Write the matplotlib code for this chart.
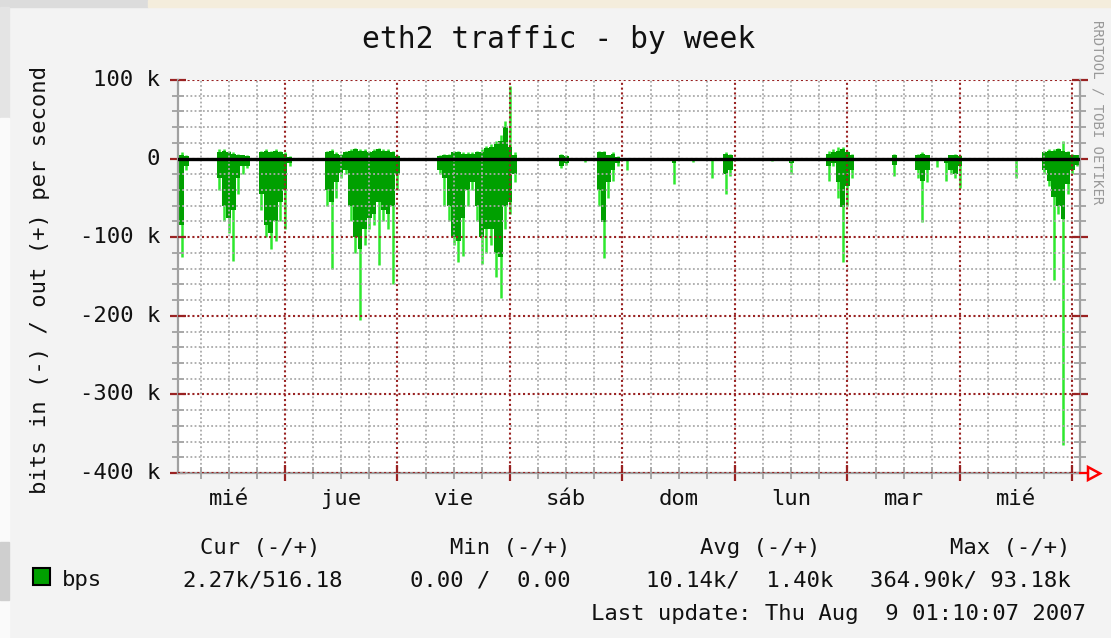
import matplotlib
matplotlib.use("Agg")
import matplotlib.pyplot as plt
from matplotlib.patches import Rectangle, Polygon
import numpy as np

W, H = 1111, 638

# hours relative to the first midnight shown (jue 00:00); zeros close each burst
t_hours = [
    -23, -22, -21, -20,
    -15, -14, -13, -12, -11, -10, -9, -8, -7,
    -6, -5, -4, -3, -2, -1, 0, 1, 2,
    8, 9, 10, 11, 12, 13, 14, 15, 16, 17, 18, 19, 20, 21, 22, 23, 24, 25,
    32, 33, 34, 35, 36, 37, 38, 39, 40, 41, 42, 43, 44, 45, 46, 47, 48, 49, 50,
    58, 59, 60, 61, 63, 64, 65,
    66, 67, 68, 69, 70, 71, 72, 73, 74,
    82, 83, 84, 86, 87, 88, 90, 91, 92, 93, 94, 95, 96,
    103, 104, 105, 107, 108, 109,
    115, 116, 117, 118, 119, 120, 121, 122,
    129, 130, 131, 134, 135, 136, 137, 138,
    139, 140, 141, 142, 143, 144, 145,
    155, 156, 157,
    161, 162, 163, 164, 165, 166, 167, 168, 169, 170,
]
# incoming traffic (drawn negative), kbit/s
in_avg_k = [
    -100, -85, -10, 0,
    0, -25, -60, -75, -65, -25, -10, -10, 0,
    0, -45, -85, -95, -80, -55, -40, -5, 0,
    0, -40, -55, -30, -18, -15, -60, -100, -115, -90, -75, -70, -55, -65, -70, -60, -20, 0,
    0, -15, -25, -60, -100, -105, -75, -40, -30, -60, -100, -90, -90, -120, -125, -60, -55, -20, 0,
    0, -10, -5, 0, 0, -3, 0,
    0, -40, -81, -30, -15, -5, 0, -2, 0,
    0, -5, 0, 0, -2, 0, 0, -3, 0, 0, -20, -15, 0,
    0, -2, 0, 0, -5, 0,
    0, -9, -5, -30, -62, -35, -15, 0,
    0, -8, 0, 0, -15, -28, -15, 0,
    0, 0, -5, -15, -19, -10, 0,
    0, -2, 0,
    0, -15, -28, -49, -60, -77, -32, -15, -8, 0,
]
in_max_k = [
    -140, -125, -15, 0,
    0, -40, -80, -95, -130, -45, -20, -12, 0,
    0, -65, -100, -115, -105, -80, -90, -10, 0,
    0, -60, -140, -50, -25, -20, -80, -120, -205, -110, -90, -85, -135, -80, -90, -160, -40, 0,
    0, -20, -60, -80, -110, -132, -124, -60, -40, -80, -134, -120, -110, -150, -177, -90, -70, -30, 0,
    0, -12, -8, 0, 0, -4, 0,
    0, -60, -126, -50, -28, -10, 0, -15, 0,
    0, -32, 0, 0, -4, 0, 0, -25, 0, 0, -45, -22, 0,
    0, -3, 0, 0, -19, 0,
    0, -28, -10, -50, -132, -60, -25, 0,
    0, -22, 0, 0, -25, -81, -30, 0,
    -11, 0, -28, -20, -25, -37, 0,
    0, -25, 0,
    0, -20, -35, -155, -70, -365, -45, -20, -10, 0,
]
# outgoing traffic (drawn positive), kbit/s
out_avg_k = [
    6, 5, 3, 0,
    0, 8, 10, 8, 6, 5, 4, 3, 0,
    0, 8, 10, 8, 10, 8, 6, 2, 0,
    0, 8, 10, 6, 5, 8, 10, 12, 10, 10, 8, 10, 12, 10, 10, 8, 3, 0,
    0, 3, 5, 5, 8, 8, 6, 6, 6, 8, 8, 13, 15, 19, 22, 40, 15, 5, 0,
    0, 5, 3, 0, 0, 0, 0,
    0, 8, 8, 4, 6, 2, 0, 0, 0,
    0, 0, 0, 0, 0, 0, 0, 0, 0, 0, 6, 5, 0,
    0, 0, 0, 0, 0, 0,
    0, 6, 8, 10, 12, 8, 5, 0,
    0, 5, 0, 0, 5, 6, 4, 0,
    0, 0, 0, 4, 5, 3, 0,
    0, 0, 0,
    0, 8, 10, 10, 12, 10, 8, 5, 4, 0,
]
out_max_k = [
    10, 8, 4, 0,
    0, 12, 12, 10, 8, 6, 5, 4, 0,
    0, 10, 12, 10, 12, 10, 8, 3, 0,
    0, 10, 12, 8, 6, 10, 12, 14, 12, 12, 10, 12, 14, 12, 12, 10, 5, 0,
    0, 5, 6, 6, 10, 10, 8, 8, 8, 10, 12, 16, 18, 22, 30, 48, 93, 8, 0,
    0, 6, 4, 0, 0, 0, 0,
    0, 10, 10, 5, 8, 3, 0, 0, 0,
    0, 0, 0, 0, 0, 0, 0, 0, 0, 0, 8, 6, 0,
    0, 0, 0, 0, 0, 0,
    0, 10, 12, 15, 15, 10, 6, 0,
    0, 6, 0, 0, 6, 8, 5, 0,
    0, 0, 0, 5, 6, 4, 0,
    0, 0, 0,
    0, 10, 12, 12, 14, 23, 10, 6, 5, 0,
]

day_labels = ["mié", "jue", "vie", "sáb", "dom", "lun", "mar", "mié"]
day_noon = [-12, 12, 36, 60, 84, 108, 132, 156]
y_ticks = [100, 0, -100, -200, -300, -400]
y_tick_labels = ["100 k", "0", "-100 k", "-200 k", "-300 k", "-400 k"]

legend_heads = ["Cur (-/+)", "Min (-/+)", "Avg (-/+)", "Max (-/+)"]
legend_vals = ["2.27k/516.18", "0.00 /  0.00", "10.14k/  1.40k", "364.90k/ 93.18k"]
head_right = [320, 570, 820, 1070]
val_right = [343, 570, 833, 1071]

DARK = "#00a000"
LIGHT = "#2ee82e"
MAJOR = "#992222"
MINOR = "#aaaaaa"
AXIS = "#a0a0a0"
INK = "#111111"
MONO = "DejaVu Sans Mono"


def fx(x):
    return x / W


def fy(y):
    return 1 - y / H


fig = plt.figure(figsize=(W / 100, H / 100), dpi=100, facecolor="#f3f3f3")

# screenshot frame bits around the graph
fig.patches.append(Rectangle((0, fy(7)), fx(148), 7 / H, transform=fig.transFigure,
                             color="#dcdcdc", zorder=0))
fig.patches.append(Rectangle((fx(148), fy(7)), 1 - fx(148), 7 / H, transform=fig.transFigure,
                             color="#f4eddc", zorder=0))
fig.patches.append(Rectangle((0, fy(118)), fx(9), 111 / H, transform=fig.transFigure,
                             color="#e4e4e4", zorder=0))
fig.patches.append(Rectangle((0, 0), fx(9), fy(118), transform=fig.transFigure,
                             color="#fafafa", zorder=0))
fig.patches.append(Rectangle((0, fy(600)), fx(9), 58 / H, transform=fig.transFigure,
                             color="#cfcfcf", zorder=0))

left, right, top, bottom = 178, 1080, 80, 473
ax = fig.add_axes([fx(left), fy(bottom), fx(right - left), (bottom - top) / H])
ax.set_facecolor("white")
ax.set_xlim(-22.8, 169.6)
ax.set_ylim(-400, 100)

t = np.array(t_hours)
ax.vlines(t, 0, in_max_k, colors=LIGHT, lw=1.8, zorder=1)
ax.fill_between(t, in_avg_k, 0, step="mid", color=DARK, lw=0, zorder=2)
ax.vlines(t, 0, out_max_k, colors=LIGHT, lw=1.8, zorder=1)
ax.fill_between(t, out_avg_k, 0, step="mid", color=DARK, lw=0, zorder=2)

# grid on top of the data, rrdtool style dotted lines
dots = (0, (1, 1.3))
for v in range(-380, 100, 20):
    if v % 100:
        ax.axhline(v, color=MINOR, lw=1.3, ls=dots, zorder=3)
for v in range(-18, 170, 6):
    if v % 24:
        ax.axvline(v, color=MINOR, lw=1.3, ls=dots, zorder=3)
for v in y_ticks:
    ax.axhline(v, color=MAJOR, lw=1.5, ls=dots, zorder=4)
for v in range(0, 170, 24):
    ax.axvline(v, color=MAJOR, lw=1.5, ls=dots, zorder=4)
ax.axhline(0, color="black", lw=2.4, zorder=5)

ax.set_yticks(y_ticks)
ax.set_yticks(range(-400, 101, 20), minor=True)
ax.set_xticks(range(0, 170, 24))
ax.set_xticks(range(-18, 170, 6), minor=True)
ax.tick_params(axis="y", which="major", direction="inout", length=12, width=1.6,
               color=MAJOR, left=True, right=True, labelleft=False)
ax.tick_params(axis="y", which="minor", direction="inout", length=8, width=1.3,
               color=AXIS, left=True, right=True)
ax.tick_params(axis="x", which="major", direction="inout", length=12, width=1.6,
               color=MAJOR, bottom=True, labelbottom=False)
ax.tick_params(axis="x", which="minor", direction="inout", length=8, width=1.3,
               color=AXIS, bottom=True)
for side in ("left", "right", "bottom"):
    ax.spines[side].set_color(AXIS)
    ax.spines[side].set_linewidth(1.6)
ax.spines["top"].set_visible(False)

for v, lab in zip(y_ticks, y_tick_labels):
    ax.annotate(lab, xy=(0, v), xycoords=("axes fraction", "data"), xytext=(-18, 0),
                textcoords="offset pixels", ha="right", va="center",
                family=MONO, fontsize=16, color=INK)
for v, lab in zip(day_noon, day_labels):
    ax.annotate(lab, xy=(v, 0), xycoords=("data", "axes fraction"), xytext=(0, -26),
                textcoords="offset pixels", ha="center", va="center",
                family=MONO, fontsize=16, color=INK)

# red arrow at the end of the x axis
fig.lines.append(plt.Line2D([fx(right), fx(1088)], [fy(bottom), fy(bottom)],
                            transform=fig.transFigure, color="red", lw=1.5))
fig.patches.append(Polygon([(fx(1088), fy(467)), (fx(1088), fy(480)), (fx(1100), fy(473.5))],
                           closed=True, transform=fig.transFigure, fill=False,
                           edgecolor="red", lw=1.8))

fig.text(0.503, fy(40), "eth2 traffic - by week", ha="center", va="center",
         family=MONO, fontsize=21.3, color=INK)
fig.text(fx(40), fy(280), "bits in (-) / out (+) per second", rotation=90,
         ha="center", va="center", family=MONO, fontsize=16, color=INK)
fig.text(fx(1098), fy(112), "RRDTOOL / TOBI OETIKER", rotation=270,
         ha="center", va="center", family=MONO, fontsize=10, color="#999999")

# legend
fig.patches.append(Rectangle((fx(33), fy(585)), 17 / W, 17 / H, transform=fig.transFigure,
                             facecolor=DARK, edgecolor="black", lw=1.5))
fig.text(fx(62), fy(580), "bps", ha="left", va="center", family=MONO, fontsize=16,
         color=INK)
for lab, x in zip(legend_heads, head_right):
    fig.text(fx(x), fy(548), lab, ha="right", va="center", family=MONO, fontsize=16,
             color=INK)
for lab, x in zip(legend_vals, val_right):
    fig.text(fx(x), fy(580), lab, ha="right", va="center", family=MONO, fontsize=16,
             color=INK)
fig.text(fx(1086), fy(614), "Last update: Thu Aug  9 01:10:07 2007", ha="right",
         va="center", family=MONO, fontsize=16, color=INK)

fig.savefig("out.png", dpi=100, facecolor=fig.get_facecolor())
